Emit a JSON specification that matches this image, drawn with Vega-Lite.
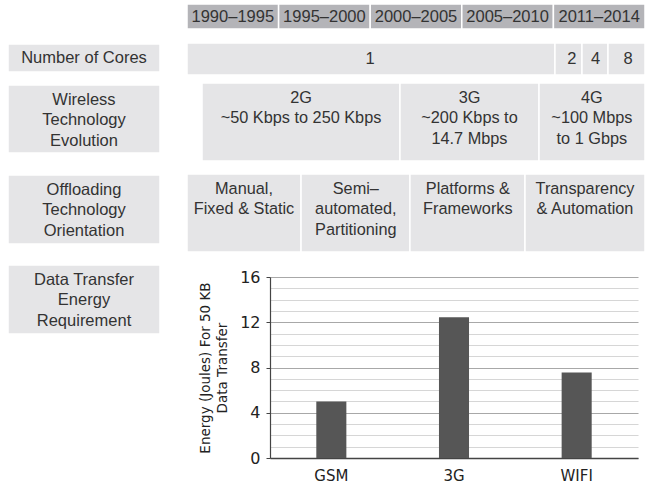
{
  "$schema": "https://vega.github.io/schema/vega-lite/v6.json",
  "padding": 0,
  "background": "white",
  "config": {"view": {"stroke": null}},
  "datasets": {
    "boxes": [
      {"x": 0, "x2": 1, "y": 4, "y2": 29, "kind": "header"},
      {"x": 1, "x2": 2, "y": 4, "y2": 29, "kind": "header"},
      {"x": 2, "x2": 3, "y": 4, "y2": 29, "kind": "header"},
      {"x": 3, "x2": 4, "y": 4, "y2": 29, "kind": "header"},
      {"x": 4, "x2": 5, "y": 4, "y2": 29, "kind": "header"},
      {"x": -1.954, "x2": -0.295, "y": 44, "y2": 72, "kind": "box"},
      {"x": -1.954, "x2": -0.295, "y": 85, "y2": 153, "kind": "box"},
      {"x": -1.954, "x2": -0.295, "y": 175, "y2": 244, "kind": "box"},
      {"x": 0, "x2": 4.017, "y": 43, "y2": 75, "kind": "box"},
      {"x": 4.017, "x2": 4.312, "y": 43, "y2": 75, "kind": "box"},
      {"x": 4.312, "x2": 4.596, "y": 43, "y2": 75, "kind": "box"},
      {"x": 4.596, "x2": 5, "y": 43, "y2": 75, "kind": "box"},
      {"x": 0.164, "x2": 2.325, "y": 83, "y2": 161, "kind": "box"},
      {"x": 2.325, "x2": 3.843, "y": 83, "y2": 161, "kind": "box"},
      {"x": 3.843, "x2": 5, "y": 83, "y2": 161, "kind": "box"},
      {"x": 0, "x2": 1.245, "y": 174, "y2": 252, "kind": "box"},
      {"x": 1.245, "x2": 2.434, "y": 174, "y2": 252, "kind": "box"},
      {"x": 2.434, "x2": 3.69, "y": 174, "y2": 252, "kind": "box"},
      {"x": 3.69, "x2": 5, "y": 174, "y2": 252, "kind": "box"}
    ],
    "midtext": [
      {"x": 0.5, "y": 16.5, "text": "1990–1995"},
      {"x": 1.5, "y": 16.5, "text": "1995–2000"},
      {"x": 2.5, "y": 16.5, "text": "2000–2005"},
      {"x": 3.5, "y": 16.5, "text": "2005–2010"},
      {"x": 4.5, "y": 16.5, "text": "2011–2014"},
      {"x": -1.1245, "y": 58, "text": "Number of Cores"},
      {"x": -1.1245, "y": 99.5, "text": "Wireless\nTechnology\nEvolution"},
      {"x": -1.1245, "y": 189.5, "text": "Offloading\nTechnology\nOrientation"},
      {"x": 2.0, "y": 59, "text": "1"},
      {"x": 4.2, "y": 59, "text": "2"},
      {"x": 4.46, "y": 59, "text": "4"},
      {"x": 4.815, "y": 59, "text": "8"}
    ],
    "toptext": [
      {"x": 1.245, "y": 89.5, "text": "2G\n~50 Kbps to 250 Kbps"},
      {"x": 3.084, "y": 89.5, "text": "3G\n~200 Kbps to\n14.7 Mbps"},
      {"x": 4.42, "y": 89.5, "text": "4G\n~100 Mbps\nto 1 Gbps"},
      {"x": 0.6225, "y": 180.5, "text": "Manual,\nFixed & Static"},
      {"x": 1.843, "y": 180.5, "text": "Semi–\nautomated,\nPartitioning"},
      {"x": 3.066, "y": 180.5, "text": "Platforms &\nFrameworks"},
      {"x": 4.345, "y": 180.5, "text": "Transparency\n& Automation"}
    ],
    "energylabel": [
      {"x": -1.954, "x2": -0.295, "y": 265, "y2": 334, "cx": -1.1245, "cy": 279.5, "text": "Data Transfer\nEnergy\nRequirement"}
    ],
    "bars": [
      {"tech": "GSM", "energy": 5.0},
      {"tech": "3G", "energy": 12.45},
      {"tech": "WIFI", "energy": 7.55}
    ]
  },
  "vconcat": [
    {
      "width": 646,
      "height": 262,
      "layer": [
        {
          "data": {"name": "boxes"},
          "mark": {"type": "rect", "stroke": "white", "strokeWidth": 1.5},
          "encoding": {
            "x": {"field": "x", "type": "quantitative", "scale": {"domain": [-2.0415, 5.0109], "nice": false, "zero": false}, "axis": null},
            "x2": {"field": "x2"},
            "y": {"field": "y", "type": "quantitative", "scale": {"domain": [0, 262], "reverse": true, "nice": false, "zero": false}, "axis": null},
            "y2": {"field": "y2"},
            "color": {"field": "kind", "type": "nominal", "scale": {"domain": ["header", "box"], "range": ["#b4b4b8", "#e5e5e7"]}, "legend": null}
          }
        },
        {
          "data": {"name": "midtext"},
          "mark": {"type": "text", "font": "Liberation Sans", "fontSize": 16.5, "color": "#333333", "align": "center", "baseline": "middle", "lineBreak": "\n", "lineHeight": 20.5},
          "encoding": {
            "x": {"field": "x", "type": "quantitative"},
            "y": {"field": "y", "type": "quantitative"},
            "text": {"field": "text"}
          }
        },
        {
          "data": {"name": "toptext"},
          "mark": {"type": "text", "font": "Liberation Sans", "fontSize": 16.3, "color": "#333333", "align": "center", "baseline": "top", "lineBreak": "\n", "lineHeight": 20.8},
          "encoding": {
            "x": {"field": "x", "type": "quantitative"},
            "y": {"field": "y", "type": "quantitative"},
            "text": {"field": "text"}
          }
        }
      ]
    },
    {
      "hconcat": [
        {
          "width": 160,
          "height": 57,
          "data": {"name": "energylabel"},
          "layer": [
            {
              "mark": {"type": "rect", "fill": "#e5e5e7", "stroke": "white", "strokeWidth": 1.5},
              "encoding": {
                "x": {"field": "x", "type": "quantitative", "scale": {"domain": [-2.0415, -0.2948], "nice": false, "zero": false}, "axis": null},
                "x2": {"field": "x2"},
                "y": {"field": "y", "type": "quantitative", "scale": {"domain": [277, 334], "reverse": true, "nice": false, "zero": false}, "axis": null},
                "y2": {"field": "y2"}
              }
            },
            {
              "mark": {"type": "text", "font": "Liberation Sans", "fontSize": 16.5, "color": "#333333", "align": "center", "baseline": "middle", "lineBreak": "\n", "lineHeight": 20.5},
              "encoding": {
                "x": {"field": "cx", "type": "quantitative"},
                "y": {"field": "cy", "type": "quantitative"},
                "text": {"field": "text"}
              }
            }
          ]
        },
        {
          "width": 368,
          "height": 181,
          "data": {"name": "bars"},
          "mark": {"type": "bar", "color": "#565656"},
          "encoding": {
            "x": {
              "field": "tech", "type": "nominal", "sort": null,
              "scale": {"paddingInner": 0.755, "paddingOuter": 0.3775},
              "axis": {"title": null, "labelAngle": 0, "ticks": false, "labelPadding": 10, "labelFont": "DejaVu Sans", "labelFontSize": 15, "labelColor": "#222222", "domainColor": "#444444", "domainWidth": 1.5}
            },
            "y": {
              "field": "energy", "type": "quantitative",
              "scale": {"domain": [0, 16], "nice": false},
              "axis": {
                "title": ["Energy (Joules) For 50 KB", "Data Transfer"],
                "titleFont": "DejaVu Sans", "titleFontSize": 13.5, "titleFontWeight": "normal", "titleColor": "#222222", "titlePadding": 10, "titleLineHeight": 17,
                "values": [0, 0.5, 1, 1.5, 2, 2.5, 3, 3.5, 4, 4.5, 5, 5.5, 6, 6.5, 7, 7.5, 8, 8.5, 9, 9.5, 10, 10.5, 11, 11.5, 12, 12.5, 13, 13.5, 14, 14.5, 15, 15.5, 16],
                "format": "d",
                "labelExpr": "datum.value % 4 === 0 ? datum.label : ''",
                "labelFont": "DejaVu Sans", "labelFontSize": 16, "labelColor": "#222222", "labelPadding": 6,
                "tickSize": 4,
                "tickColor": {"condition": {"test": "datum.value % 4 === 0", "value": "#444444"}, "value": "transparent"},
                "grid": true,
                "gridColor": {"condition": {"test": "datum.value % 4 === 0", "value": "#a8a8a8"}, "value": "#d6d6d6"},
                "gridWidth": 1.2,
                "domainColor": "#444444", "domainWidth": 1.2
              }
            }
          }
        }
      ],
      "spacing": 110,
      "bounds": "flush"
    }
  ],
  "spacing": 15,
  "bounds": "flush"
}
